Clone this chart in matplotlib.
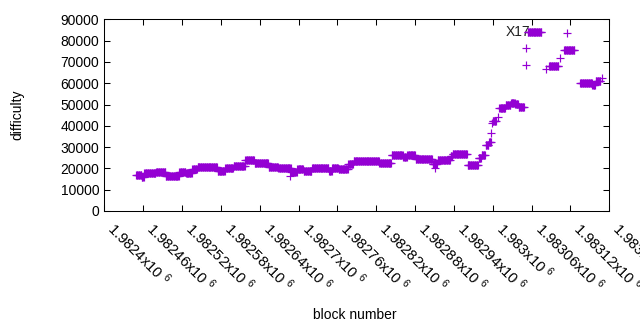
import numpy as np
import matplotlib
matplotlib.use("Agg")
import matplotlib.pyplot as plt

plt.rcParams['font.family'] = ['Liberation Sans', 'DejaVu Sans']
plt.rcParams['mathtext.fontset'] = 'custom'
plt.rcParams['mathtext.rm'] = 'Liberation Sans'
plt.rcParams['mathtext.it'] = 'Liberation Sans'

# difficulty holds steady over runs of blocks: (first block, last block, difficulty)
seg_start = [1982449, 1982458, 1982462, 1982480, 1982495, 1982516, 1982526, 1982536,
             1982544, 1982575, 1982587, 1982600, 1982618, 1982632, 1982654, 1982669,
             1982689, 1982698, 1982708, 1982721, 1982747, 1982752, 1982762, 1982777,
             1982785, 1982825, 1982844, 1982862, 1982868, 1982881, 1982907, 1982915,
             1982935, 1982938, 1982961, 1982978, 1982983, 1982989, 1982994, 1983000,
             1983010, 1983020, 1983028, 1983035, 1983040, 1983054, 1983087, 1983110,
             1983135, 1983154, 1983159]
seg_end = [1982457, 1982461, 1982479, 1982494, 1982515, 1982525, 1982535, 1982543,
           1982574, 1982586, 1982599, 1982617, 1982631, 1982653, 1982668, 1982688,
           1982697, 1982707, 1982720, 1982746, 1982751, 1982761, 1982776, 1982784,
           1982824, 1982843, 1982861, 1982867, 1982880, 1982906, 1982914, 1982934,
           1982937, 1982960, 1982977, 1982982, 1982988, 1982993, 1982997, 1983005,
           1983019, 1983027, 1983034, 1983039, 1983048, 1983075, 1983101, 1983126,
           1983153, 1983158, 1983166]
seg_diff = [16760, 16100, 17700, 18170, 16570, 18170, 17700, 19580,
            20520, 18920, 20050, 20990, 23800, 22400, 20890, 20050,
            18310, 19580, 18920, 20050, 18780, 20050, 19580, 22210,
            23620, 22400, 26150, 25490, 26150, 24270, 21930, 23950,
            25820, 26620, 21830, 24880, 26290, 30990, 32540, 42400,
            48220, 49770, 50850, 50100, 48970, 84180, 67940, 75450,
            60100, 59160, 60890]

# isolated blocks
single_block = [1982687, 1982911, 1982998, 1982999, 1983008, 1983051, 1983052,
                1983083, 1983104, 1983115, 1983168]
single_diff = [16430, 20050, 36480, 41180, 43990, 68550, 76390,
               66530, 71690, 83710, 62300]

x_ticks = [1982400 + 60 * k for k in range(14)]
y_ticks = list(range(0, 90001, 10000))

blocks = []
diffs = []
for s, e, d in zip(seg_start, seg_end, seg_diff):
    b = np.arange(s, e + 1)
    blocks.append(b)
    diffs.append(np.full(len(b), d))
blocks = np.concatenate(blocks + [np.array(single_block)])
diffs = np.concatenate(diffs + [np.array(single_diff)])

fig = plt.figure(figsize=(6.4, 3.3), dpi=100)
ax = fig.add_axes([104.3 / 640, 1 - 211 / 330, 505 / 640, 191.7 / 330])

ax.text(1983020, 83900, 'X17', fontsize=10, ha='left', va='center', color='#202020', zorder=1)
ax.plot(blocks, diffs, linestyle='none', marker='+', color='#9400d3',
        markersize=5.4, markeredgewidth=0.85, zorder=3)

ax.set_xlim(1982400, 1983180)
ax.set_ylim(0, 90000)
ax.set_yticks(y_ticks)
ax.set_yticklabels([str(v) for v in y_ticks], fontsize=10)
ax.set_xticks(x_ticks)
ax.set_xticklabels(['%gx10 $^{6}$' % (v / 1e6) for v in x_ticks], fontsize=10.6,
                   rotation=-45, ha='left', va='top')
ax.tick_params(direction='in', top=True, right=True, length=4, width=0.75)
ax.tick_params(axis='x', pad=5.5)
for sp in ax.spines.values():
    sp.set_linewidth(0.75)

fig.text(17 / 640, 1 - 115 / 330, 'difficulty', rotation=90, ha='center', va='center', fontsize=10)
fig.text(355 / 640, 1 - 315 / 330, 'block number', ha='center', va='center', fontsize=10)

fig.savefig('out.png', dpi=100)
